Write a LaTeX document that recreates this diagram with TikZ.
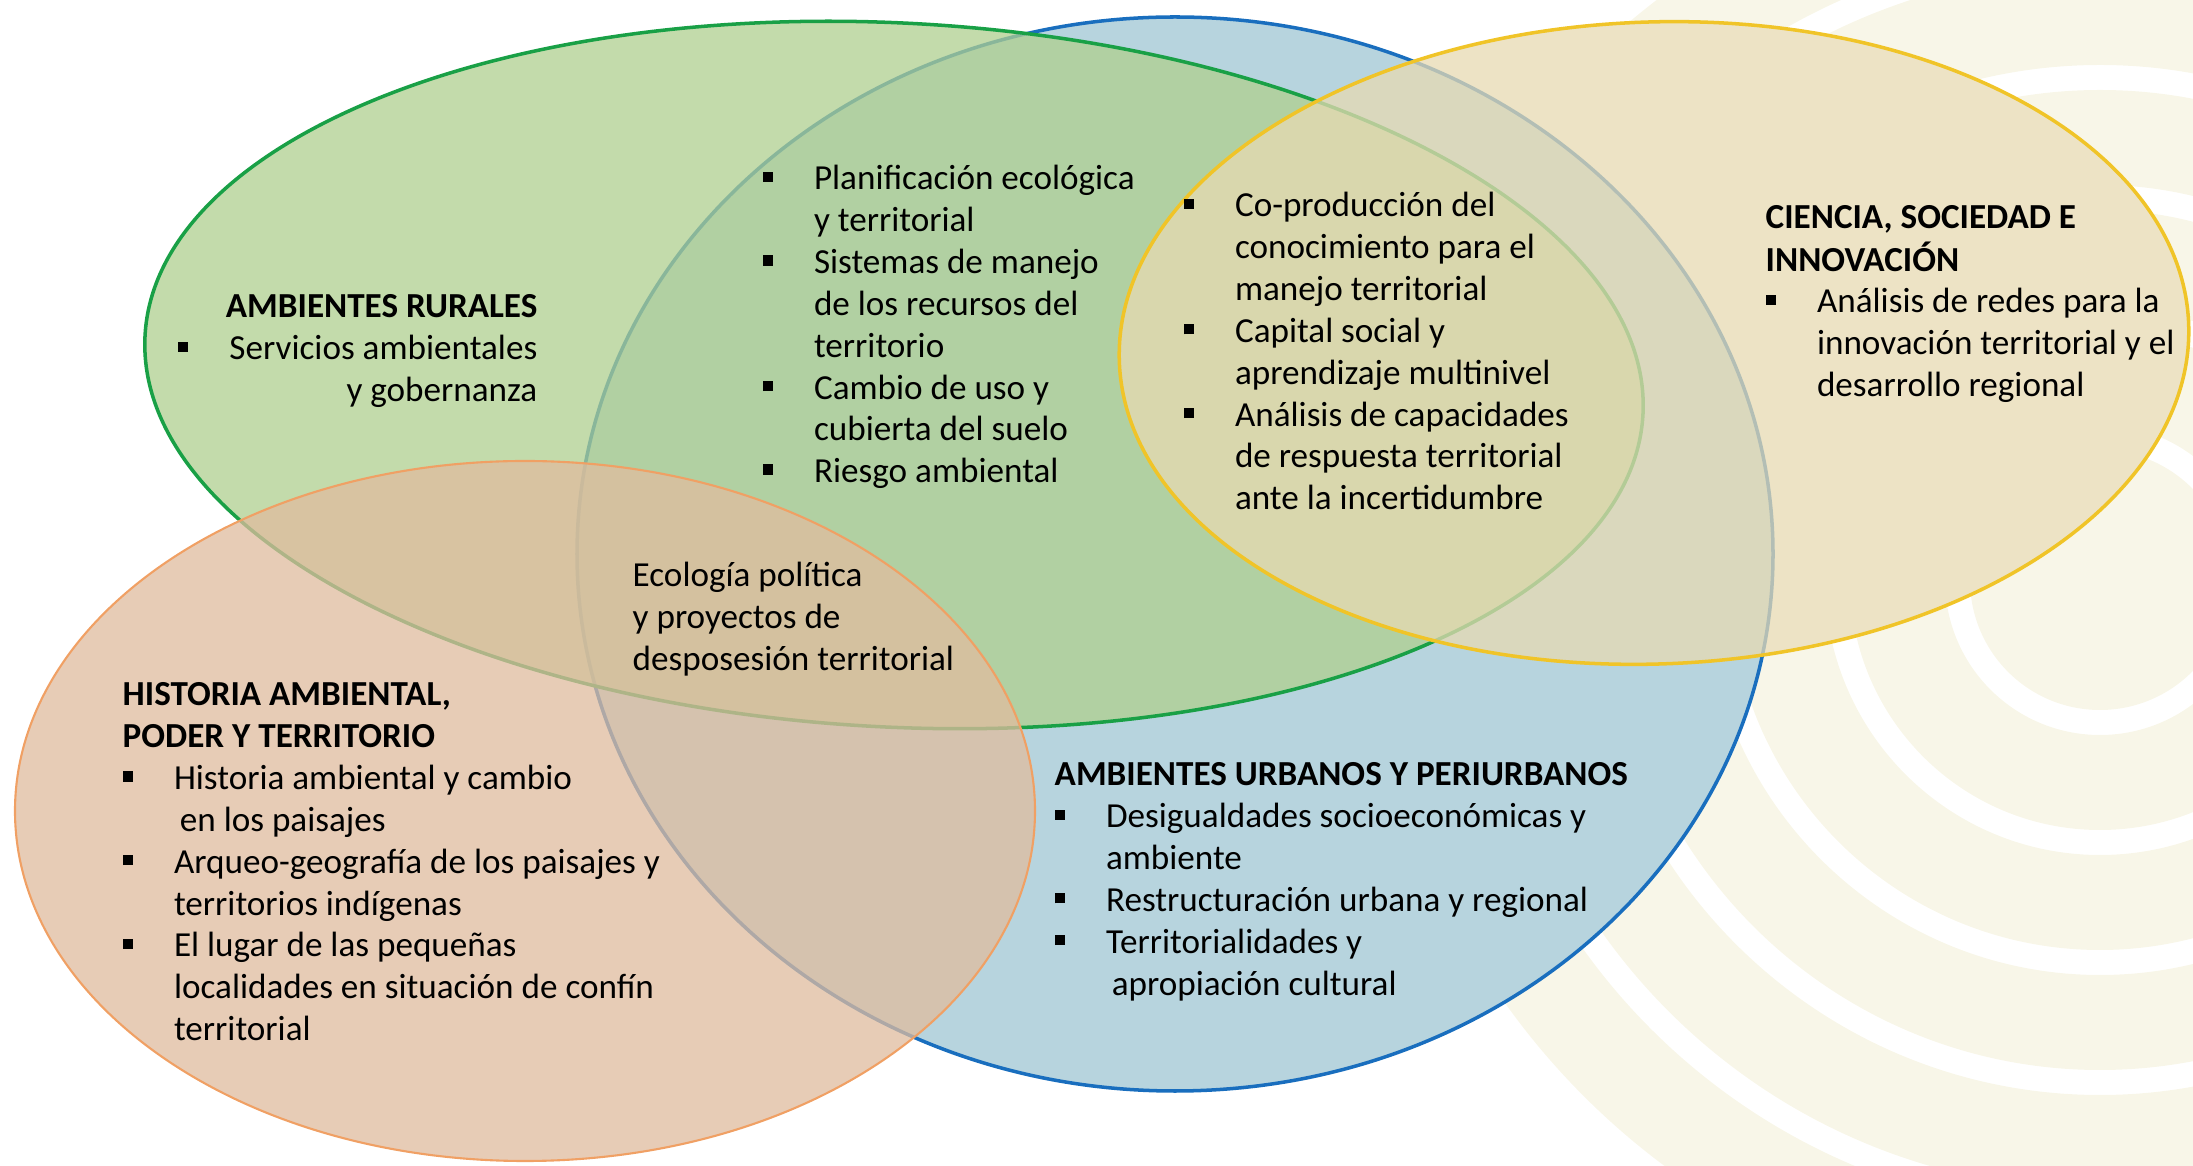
\documentclass[tikz,border=0pt]{standalone}
\usepackage{fontspec}
\setmainfont{Carlito}
\usepackage{tikz}
\usetikzlibrary{positioning}

\definecolor{ruralfill}{RGB}{175,207,143}
\definecolor{ruralline}{RGB}{25,160,70}
\definecolor{urbanfill}{RGB}{159,198,211}
\definecolor{urbanline}{RGB}{25,110,190}
\definecolor{cienfill}{RGB}{231,218,178}
\definecolor{cienline}{RGB}{240,196,40}
\definecolor{histfill}{RGB}{224,188,158}
\definecolor{histline}{RGB}{240,160,100}
\definecolor{marca}{RGB}{248,246,232}

\newlength{\bulw}\setlength{\bulw}{14.6pt}
\newcommand{\bul}{\makebox[\bulw][l]{\rule[2.3pt]{2.9pt}{2.9pt}}}
\newcommand{\sig}{\hspace*{\bulw}}

\begin{document}
\begin{tikzpicture}[
    tema/.style={font=\fontsize{10}{11.9}\selectfont, inner sep=0pt, anchor=base west},
    zona/.style={fill opacity=0.75, line width=1pt}]
    \useasboundingbox (0,0) rectangle (21.93,11.66);

    % marca de agua
    \begin{scope}
        \clip (0,0) rectangle (21.93,11.66);
        \foreach \r/\s in {7.3/6.35, 6.1/5.15, 4.9/3.95, 3.7/2.75, 2.5/1.55}
            \fill[marca,even odd rule] (21,5.86) circle (\r) (21,5.86) circle (\s);
        \fill[marca] (21,5.86) circle (1.3);
    \end{scope}

    % fondo blanco bajo las zonas
    \fill[white] (11.75,6.12) ellipse (5.98 and 5.37);
    \fill[white, rotate around={-3:(8.94,7.91)}] (8.94,7.91) ellipse (7.5 and 3.52);
    \fill[white] (5.25,3.55) ellipse (5.1 and 3.5);
    \fill[white, rotate around={2:(16.54,8.23)}] (16.54,8.23) ellipse (5.35 and 3.21);

    % zonas
    \draw[zona, draw=urbanline, fill=urbanfill] (11.75,6.12) ellipse (5.98 and 5.37);
    \draw[zona, draw=ruralline, fill=ruralfill, rotate around={-3:(8.94,7.91)}] (8.94,7.91) ellipse (7.5 and 3.52);
    \draw[zona, line width=0.6pt, draw=histline, fill=histfill] (5.25,3.55) ellipse (5.1 and 3.5);
    \draw[zona, draw=cienline, fill=cienfill, rotate around={2:(16.54,8.23)}] (16.54,8.23) ellipse (5.35 and 3.21);

    % textos
    \node[tema, anchor=base east] (rural) at (5.38,8.48) {\begin{tabular}[t]{@{}r@{}}
        \textbf{AMBIENTES RURALES}\\
        \bul Servicios ambientales\\
        y gobernanza
    \end{tabular}};

    \node[tema] (planif) at (7.62,9.76) {\begin{tabular}[t]{@{}l@{}}
        \bul Planificación ecológica\\
        \sig y territorial\\
        \bul Sistemas de manejo\\
        \sig de los recursos del\\
        \sig territorio\\
        \bul Cambio de uso y\\
        \sig cubierta del suelo\\
        \bul Riesgo ambiental
    \end{tabular}};

    \node[tema] (coprod) at (11.83,9.49) {\begin{tabular}[t]{@{}l@{}}
        \bul Co-producción del\\
        \sig conocimiento para el\\
        \sig manejo territorial\\
        \bul Capital social y\\
        \sig aprendizaje multinivel\\
        \bul Análisis de capacidades\\
        \sig de respuesta territorial\\
        \sig ante la incertidumbre
    \end{tabular}};

    \node[tema] (ciencia) at (17.65,9.37) {\begin{tabular}[t]{@{}l@{}}
        \textbf{CIENCIA, SOCIEDAD E}\\
        \textbf{INNOVACIÓN}\\
        \bul Análisis de redes para la\\
        \sig innovación territorial y el\\
        \sig desarrollo regional
    \end{tabular}};

    \node[tema] (ecopol) at (6.32,5.79) {\begin{tabular}[t]{@{}l@{}}
        Ecología política\\
        y proyectos de\\
        desposesión territorial
    \end{tabular}};

    \node[tema] (historia) at (1.22,4.60) {\begin{tabular}[t]{@{}l@{}}
        \textbf{HISTORIA AMBIENTAL,}\\
        \textbf{PODER Y TERRITORIO}\\
        \bul Historia ambiental y cambio\\
        \sig\,en los paisajes\\
        \bul Arqueo-geografía de los paisajes y\\
        \sig territorios indígenas\\
        \bul El lugar de las pequeñas\\
        \sig localidades en situación de confín\\
        \sig territorial
    \end{tabular}};

    \node[tema] (urbano) at (10.54,3.80) {\begin{tabular}[t]{@{}l@{}}
        \textbf{AMBIENTES URBANOS Y PERIURBANOS}\\
        \bul Desigualdades socioeconómicas y\\
        \sig ambiente\\
        \bul Restructuración urbana y regional\\
        \bul Territorialidades y\\
        \sig\,apropiación cultural
    \end{tabular}};
\end{tikzpicture}
\end{document}
